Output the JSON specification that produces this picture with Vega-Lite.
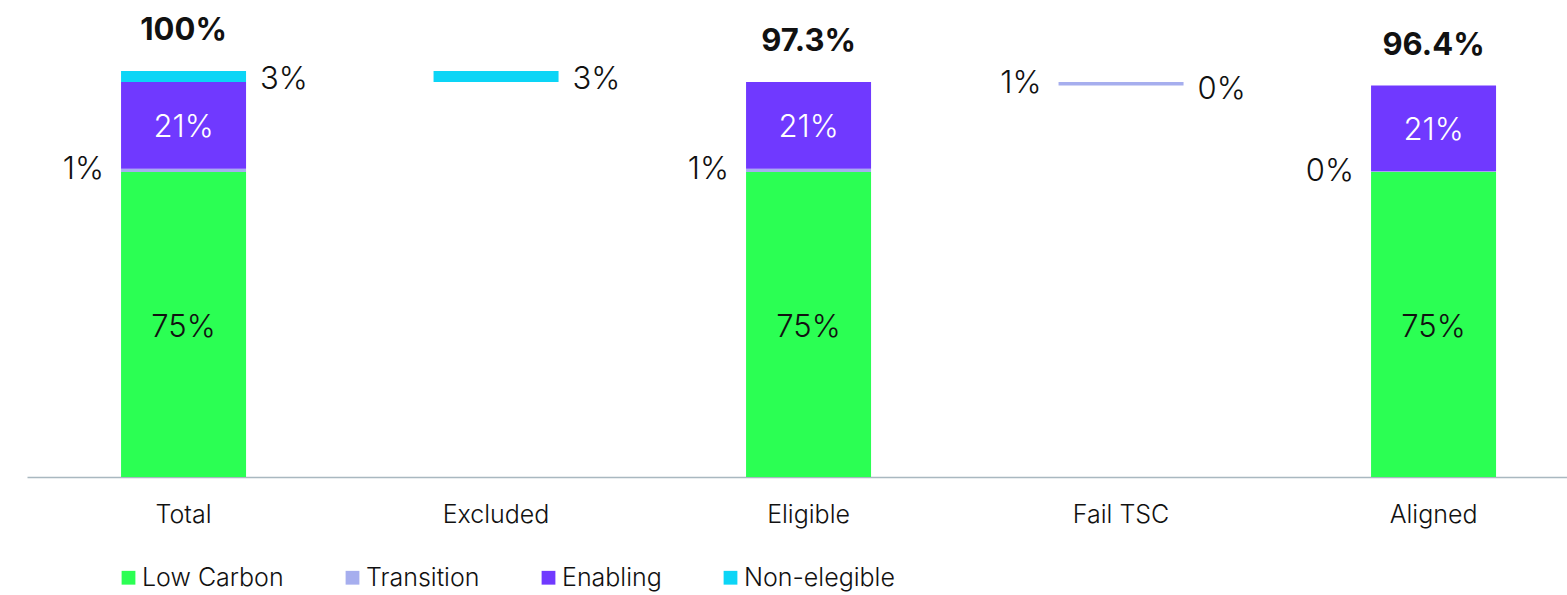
{
  "$schema": "https://vega.github.io/schema/vega-lite/v6.json",
  "width": 1540,
  "height": 467,
  "autosize": {"type": "none"},
  "padding": {"left": 27, "top": 10, "right": 0, "bottom": 118},
  "background": "white",
  "config": {
    "view": {"stroke": null},
    "font": "Inter",
    "text": {"font": "Inter"},
    "axis": {"labelFont": "Inter"},
    "legend": {"labelFont": "Inter"}
  },
  "datasets": {
    "segments": [
      {"category": "Total", "series": "Low Carbon", "start": 0, "end": 75.1, "label": "75%", "side": "inside"},
      {"category": "Total", "series": "Transition", "start": 75.1, "end": 75.9, "label": "1%", "side": "left"},
      {"category": "Total", "series": "Enabling", "start": 75.9, "end": 97.3, "label": "21%", "side": "inside"},
      {"category": "Total", "series": "Non-elegible", "start": 97.3, "end": 100, "label": "3%", "side": "right"},
      {"category": "Excluded", "series": "Non-elegible", "start": 97.3, "end": 100, "label": "3%", "side": "right"},
      {"category": "Eligible", "series": "Low Carbon", "start": 0, "end": 75.1, "label": "75%", "side": "inside"},
      {"category": "Eligible", "series": "Transition", "start": 75.1, "end": 75.9, "label": "1%", "side": "left"},
      {"category": "Eligible", "series": "Enabling", "start": 75.9, "end": 97.3, "label": "21%", "side": "inside"},
      {"category": "Fail TSC", "series": "Transition", "start": 96.4, "end": 97.3, "label": "1%", "side": "left"},
      {"category": "Fail TSC", "series": "Low Carbon", "start": 96.4, "end": 96.4, "label": "0%", "side": "right"},
      {"category": "Aligned", "series": "Low Carbon", "start": 0, "end": 75.1, "label": "75%", "side": "inside"},
      {"category": "Aligned", "series": "Transition", "start": 75.1, "end": 75.3, "label": "0%", "side": "left"},
      {"category": "Aligned", "series": "Enabling", "start": 75.3, "end": 96.4, "label": "21%", "side": "inside"}
    ],
    "totals": [
      {"category": "Total", "value": 100, "label": "100%"},
      {"category": "Eligible", "value": 97.3, "label": "97.3%"},
      {"category": "Aligned", "value": 96.4, "label": "96.4%"}
    ]
  },
  "layer": [
    {
      "data": {"name": "segments"},
      "mark": {"type": "bar"},
      "encoding": {
        "x": {
          "field": "category", "type": "nominal",
          "sort": ["Total", "Excluded", "Eligible", "Fail TSC", "Aligned"],
          "scale": {"paddingInner": 0.6, "paddingOuter": 0.264, "align": 0.57},
          "axis": {
            "title": null, "labelAngle": 0, "ticks": false, "labelFontSize": 25, "labelFontWeight": 300,
            "labelColor": "#111111", "labelPadding": 25, "domainColor": "#A9B8C0", "domainWidth": 1.5
          }
        },
        "y": {"field": "start", "type": "quantitative", "scale": {"domain": [0, 115]}, "axis": null},
        "y2": {"field": "end"},
        "color": {
          "field": "series", "type": "nominal",
          "scale": {
            "domain": ["Low Carbon", "Transition", "Enabling", "Non-elegible"],
            "range": ["#2BFF53", "#A6AEEE", "#7039FF", "#0CD5F6"]
          },
          "legend": {
            "title": null, "orient": "none", "legendX": 89, "legendY": 555, "direction": "horizontal",
            "symbolType": "square", "symbolSize": 190, "symbolStrokeWidth": 0, "labelFontSize": 25, "labelFontWeight": 300,
            "labelColor": "#111111", "columnPadding": 56, "labelOffset": 1
          }
        }
      }
    },
    {
      "data": {"name": "segments"},
      "transform": [
        {"filter": "datum.side == 'inside'"},
        {"fold": ["start", "end"], "as": ["edge", "pos"]},
        {"aggregate": [{"op": "mean", "field": "pos", "as": "mid"}], "groupby": ["category", "series", "label"]}
      ],
      "mark": {"type": "text", "fontSize": 31, "fontWeight": 300, "baseline": "middle", "align": "center", "dy": 3},
      "encoding": {
        "x": {"field": "category", "type": "nominal", "sort": ["Total", "Excluded", "Eligible", "Fail TSC", "Aligned"]},
        "y": {"field": "mid", "type": "quantitative", "scale": {"domain": [0, 115]}, "axis": null},
        "text": {"field": "label"},
        "color": {"condition": {"test": "datum.series == 'Enabling'", "value": "#FFFFFF"}, "value": "#111111"}
      }
    },
    {
      "data": {"name": "segments"},
      "transform": [
        {"filter": "datum.side == 'left'"},
        {"fold": ["start", "end"], "as": ["edge", "pos"]},
        {"aggregate": [{"op": "mean", "field": "pos", "as": "mid"}], "groupby": ["category", "series", "label"]}
      ],
      "mark": {"type": "text", "fontSize": 31, "fontWeight": 300, "baseline": "middle", "align": "right", "dx": -17, "dy": 0, "color": "#111111"},
      "encoding": {
        "x": {"field": "category", "type": "nominal", "bandPosition": 0, "sort": ["Total", "Excluded", "Eligible", "Fail TSC", "Aligned"]},
        "y": {"field": "mid", "type": "quantitative", "scale": {"domain": [0, 115]}, "axis": null},
        "text": {"field": "label"}
      }
    },
    {
      "data": {"name": "segments"},
      "transform": [
        {"filter": "datum.side == 'right'"},
        {"fold": ["start", "end"], "as": ["edge", "pos"]},
        {"aggregate": [{"op": "mean", "field": "pos", "as": "mid"}], "groupby": ["category", "series", "label"]}
      ],
      "mark": {"type": "text", "fontSize": 31, "fontWeight": 300, "baseline": "middle", "align": "left", "dx": 14, "dy": 4, "color": "#111111"},
      "encoding": {
        "x": {"field": "category", "type": "nominal", "bandPosition": 1, "sort": ["Total", "Excluded", "Eligible", "Fail TSC", "Aligned"]},
        "y": {"field": "mid", "type": "quantitative", "scale": {"domain": [0, 115]}, "axis": null},
        "text": {"field": "label"}
      }
    },
    {
      "data": {"name": "totals"},
      "mark": {"type": "text", "fontSize": 31, "fontWeight": "bold", "baseline": "middle", "align": "center", "dy": -40, "color": "#111111"},
      "encoding": {
        "x": {"field": "category", "type": "nominal", "sort": ["Total", "Excluded", "Eligible", "Fail TSC", "Aligned"]},
        "y": {"field": "value", "type": "quantitative", "scale": {"domain": [0, 115]}, "axis": null},
        "text": {"field": "label"}
      }
    }
  ]
}
